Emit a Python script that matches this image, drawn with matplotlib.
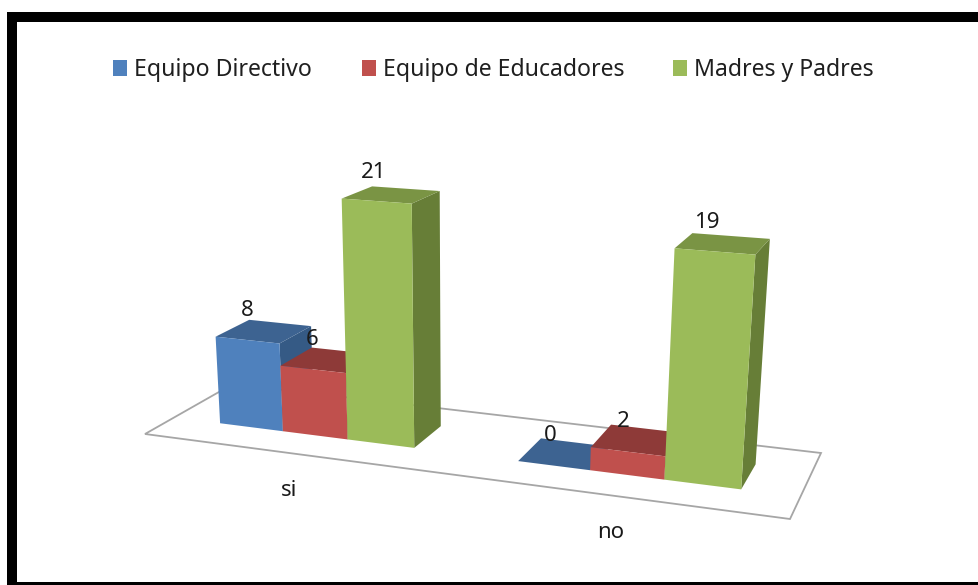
import numpy as np
import matplotlib
matplotlib.use('Agg')
import matplotlib.pyplot as plt
from matplotlib.patches import Polygon, Rectangle

plt.rcParams['font.family'] = ['Noto Sans', 'DejaVu Sans']

# data
categories = ['si', 'no']
series_names = ['Equipo Directivo', 'Equipo de Educadores', 'Madres y Padres']
directivo = [8, 0]
educadores = [6, 2]
madres = [21, 19]

front_colors = ['#4f81bd', '#c0504d', '#9bbb59']
top_colors = ['#3d6391', '#8e3a38', '#7a9444']
side_colors = ['#355a85', '#7f3331', '#677e37']

W, H = 979, 585

# floor corners in image pixels, gives the camera for the fake 3d look
floor_corners = [(145, 434), (790, 519), (821, 453), (233, 384)]
vanish = np.array([462.0, 5100.0, 1.0])
height_k = -0.00232
depth_front, depth_back = 0.31, 0.70
gap = 1.5  # excel gap width 150%


def make_camera(corners):
    (x0, y0), (x1, y1), (x2, y2), (x3, y3) = corners
    dx1, dx2, sx = x1 - x2, x3 - x2, x0 - x1 + x2 - x3
    dy1, dy2, sy = y1 - y2, y3 - y2, y0 - y1 + y2 - y3
    det = dx1 * dy2 - dx2 * dy1
    g = (sx * dy2 - dx2 * sy) / det
    h = (dx1 * sy - sx * dy1) / det
    return np.array([
        [x1 - x0 + g * x1, x3 - x0 + h * x3, height_k * vanish[0], x0],
        [y1 - y0 + g * y1, y3 - y0 + h * y3, height_k * vanish[1], y0],
        [g, h, height_k, 1.0],
    ])


camera = make_camera(floor_corners)


def project(s, v, z):
    px = camera @ np.array([s, v, z, 1.0])
    return px[0] / px[2], px[1] / px[2]


fig = plt.figure(figsize=(W / 100, H / 100), dpi=100)
ax = fig.add_axes([0, 0, 1, 1])
ax.set_xlim(0, W)
ax.set_ylim(H, 0)
ax.axis('off')

# black frame, the source image is cut off on the right so only three sides
ax.add_patch(Rectangle((7, 12), W - 7, 10, fc='black', ec='none', zorder=1))
ax.add_patch(Rectangle((7, 12), 10, H - 12, fc='black', ec='none', zorder=1))
ax.add_patch(Rectangle((7, 582), W - 7, 3, fc='black', ec='none', zorder=1))

# floor
ax.add_patch(Polygon([project(0, 0, 0), project(1, 0, 0), project(1, 1, 0), project(0, 1, 0)],
                     closed=True, fc='white', ec='#a6a6a6', lw=1.3, zorder=2))

values = [directivo, educadores, madres]
n_cat = len(categories)
n_ser = len(series_names)
bar_w = 1.0 / n_cat / (n_ser + gap)

z = 3
for c in range(n_cat):
    for i in range(n_ser):
        val = values[i][c]
        s0 = (c + 0.5) / n_cat - n_ser * bar_w / 2 + i * bar_w
        s1 = s0 + bar_w
        v0, v1 = depth_front, depth_back
        # right side, top, front
        ax.add_patch(Polygon([project(s1, v0, 0), project(s1, v1, 0), project(s1, v1, val), project(s1, v0, val)],
                             closed=True, fc=side_colors[i], ec='none', zorder=z))
        ax.add_patch(Polygon([project(s0, v0, val), project(s1, v0, val), project(s1, v1, val), project(s0, v1, val)],
                             closed=True, fc=top_colors[i], ec='none', zorder=z + 0.1))
        if val > 0:
            ax.add_patch(Polygon([project(s0, v0, 0), project(s1, v0, 0), project(s1, v0, val), project(s0, v0, val)],
                                 closed=True, fc=front_colors[i], ec='none', zorder=z + 0.2))
        z += 1
        lx, ly = project(s0, v0, val)
        ax.text(lx + 32, ly - 26, str(val), fontsize=16, color='#1a1a1a', ha='center', va='center', zorder=50)

    cx, cy = project((c + 0.5) / n_cat, 0, 0)
    ax.text(cx, cy + 37, categories[c], fontsize=16, color='#1a1a1a', ha='center', va='center', zorder=50)

# legend
legend_x = [113, 362, 673]
for i, name in enumerate(series_names):
    ax.add_patch(Rectangle((legend_x[i], 60), 14.5, 16, fc=front_colors[i], ec='none', zorder=50))
    ax.text(legend_x[i] + 21, 70, name, fontsize=16.6, color='#1f1f1f', ha='left', va='center', zorder=50)

fig.savefig('out.png', dpi=100)
